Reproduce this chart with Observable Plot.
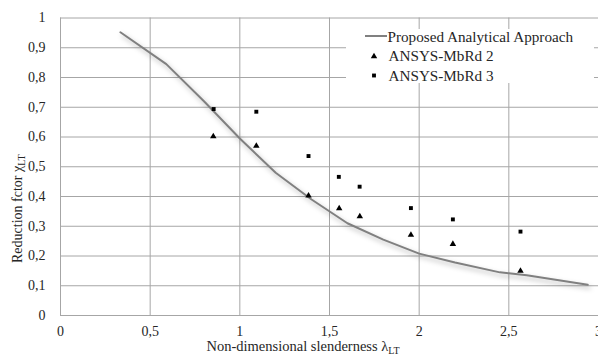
<!DOCTYPE html>
<html><head><meta charset="utf-8">
<script src="https://cdn.jsdelivr.net/npm/d3@7"></script>
<script src="https://cdn.jsdelivr.net/npm/@observablehq/plot@0.6"></script>
<style>
body{margin:0;background:#fff}
#chart svg{display:block}
#chart svg, #chart svg text{font-family:"Liberation Serif","Times New Roman",serif !important}
</style>
</head><body><div id="chart"></div>
<script>
// ---- data ----
const xTicks = [0, 0.5, 1, 1.5, 2, 2.5, 3];
const yTicks = [0, 0.1, 0.2, 0.3, 0.4, 0.5, 0.6, 0.7, 0.8, 0.9, 1];
const analyticalX = [0.334, 0.59, 0.8, 1.0, 1.2, 1.4, 1.6, 1.8, 2.0, 2.2, 2.45, 2.6, 2.94];
const analyticalY = [0.952, 0.845, 0.72, 0.595, 0.48, 0.39, 0.31, 0.255, 0.208, 0.178, 0.145, 0.135, 0.103];
const mbrd2X = [0.852, 1.092, 1.383, 1.554, 1.669, 1.954, 2.188, 2.565];
const mbrd2Y = [0.602, 0.570, 0.403, 0.360, 0.333, 0.271, 0.240, 0.150];
const mbrd3X = [0.854, 1.092, 1.383, 1.552, 1.668, 1.954, 2.188, 2.565];
const mbrd3Y = [0.694, 0.685, 0.536, 0.466, 0.433, 0.361, 0.323, 0.282];
const seriesNames = ["Proposed Analytical Approach", "ANSYS-MbRd 2", "ANSYS-MbRd 3"];
const xTitle = "Non-dimensional slenderness λ";
const yTitle = "Reduction fctor χ";
const subscript = "LT";

const analytical = analyticalX.map((x, i) => ({x, y: analyticalY[i]}));
const mbrd2 = mbrd2X.map((x, i) => ({x, y: mbrd2Y[i]}));
const mbrd3 = mbrd3X.map((x, i) => ({x, y: mbrd3Y[i]}));
const fmt = d => String(d).replace(".", ",");

const gridColor = "#a6a6a6";
const textColor = "#262626";
const serif = '"Liberation Serif","Times New Roman",serif';

const svg = Plot.plot({
  width: 598, height: 356,
  marginLeft: 60, marginRight: 0, marginTop: 17.5, marginBottom: 41,
  style: {fontFamily: serif, fontSize: "14px", color: textColor, background: "#fff", overflow: "visible"},
  x: {domain: [0, 3], label: null},
  y: {domain: [0, 1], label: null},
  marks: [
    Plot.gridX(xTicks, {stroke: gridColor, strokeOpacity: 1, strokeWidth: 1}),
    Plot.gridY(yTicks, {stroke: gridColor, strokeOpacity: 1, strokeWidth: 1}),
    Plot.axisX(xTicks, {tickFormat: fmt, tickSize: 0, tickPadding: 11, label: null, fill: textColor, fontFamily: serif}),
    Plot.axisY(yTicks, {tickFormat: fmt, tickSize: 0, tickPadding: 15, label: null, fill: textColor, fontFamily: serif}),
    Plot.line(analytical, {x: "x", y: "y", stroke: "#808080", strokeWidth: 2}),
    Plot.dot(mbrd2, {x: "x", y: "y", symbol: "triangle", r: 2.4, fill: "#000", stroke: "none"}),
    Plot.dot(mbrd3, {x: "x", y: "y", symbol: "square", r: 2.2, fill: "#000", stroke: "none"})
  ]
});
document.getElementById("chart").appendChild(svg);

const s = d3.select(svg);
s.selectAll('g[aria-label="line"] path').style("filter", "drop-shadow(2px 3px 2.5px rgba(0,0,0,0.3))");

// axis titles
const xt = s.append("text").attr("x", 206.5).attr("y", 351).attr("text-anchor", "start").attr("fill", textColor).style("font-size", "14.5px");
xt.append("tspan").text(xTitle);
xt.append("tspan").attr("dy", 3).style("font-size", "10px").text(subscript);

const yt = s.append("text").attr("transform", "translate(21.5,263) rotate(-90)").attr("text-anchor", "start").attr("fill", textColor).style("font-size", "14px");
yt.append("tspan").text(yTitle);
yt.append("tspan").attr("dy", 3).style("font-size", "10px").text(subscript);

// legend
const lg = s.append("g").style("font-size", "15.2px");
lg.append("rect").attr("x", 346).attr("y", 29).attr("width", 248).attr("height", 54).attr("fill", "#fff");
lg.append("line").attr("x1", 365).attr("x2", 387).attr("y1", 36).attr("y2", 36).attr("stroke", "#808080").attr("stroke-width", 2);
lg.append("path").attr("d", d3.symbol(d3.symbolTriangle, 18)()).attr("transform", "translate(374,56.5)").attr("fill", "#000");
lg.append("path").attr("d", d3.symbol(d3.symbolSquare, 15)()).attr("transform", "translate(374,75.5)").attr("fill", "#000");
const ly = [41.5, 61, 80.5];
seriesNames.forEach((n, i) => {
  lg.append("text").attr("x", i === 0 ? 387.5 : 388.5).attr("y", ly[i]).attr("text-anchor", "start").attr("fill", textColor).text(n);
});
</script>
</body></html>
